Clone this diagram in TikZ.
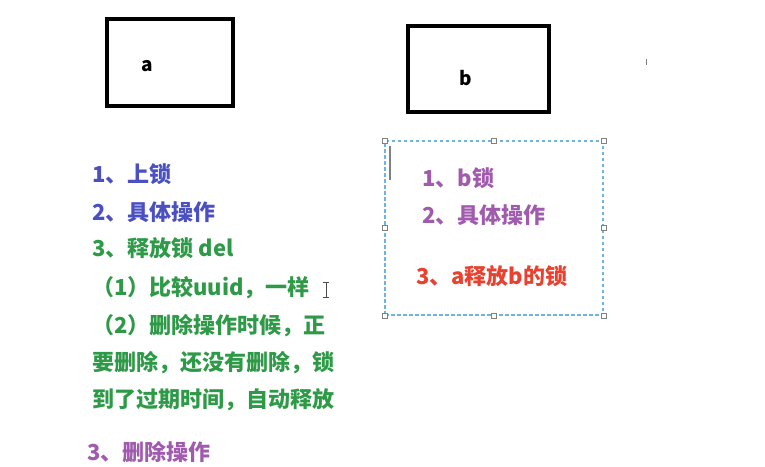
\documentclass[tikz,border=0pt]{standalone}
\usepackage{fontspec}
\newfontfamily\cjk{Noto Sans CJK SC}
\usetikzlibrary{positioning}
\definecolor{lockblue}{HTML}{4A4FC2}
\definecolor{lockgreen}{HTML}{2E9A48}
\definecolor{lockpurple}{HTML}{A05AAE}
\definecolor{lockred}{HTML}{E8412F}
\definecolor{selblue}{HTML}{6FB3E0}
\tikzset{
  client/.style={draw, line width=4pt, minimum width=126pt, minimum height=87pt},
  label/.style={font=\cjk\bfseries\fontsize{19}{21}\selectfont},
  note/.style={anchor=west, inner sep=0pt, font=\cjk\bfseries\fontsize{22}{24}\selectfont},
  handle/.style={draw=gray, fill=white, line width=0.6pt, minimum size=5pt, inner sep=0pt}
}
\begin{document}
\begin{tikzpicture}[x=1pt, y=-1pt]
  \useasboundingbox (0,0) rectangle (765,466);
  % the two clients
  \node[client] (boxa) at (170,62.5) {};
  \node[label] (laba) at (147,66) {a};
  \node[client, minimum width=141pt, minimum height=86pt] (boxb) at (478.5,69) {};
  \node[label] (labb) at (466,78) {b};
  % steps of client a
  \node[note, text=lockblue] (a1) at (92,174) {1、上锁};
  \node[note, text=lockblue] (a2) at (92,212) {2、具体操作};
  \node[note, text=lockgreen] (a3) at (92,248) {3、释放锁 del};
  \node[note, text=lockgreen] (a4) at (92,288) {（1）比较uuid，一样};
  \node[note, text=lockgreen] (a5) at (92,326) {（2）删除操作时候，正};
  \node[note, text=lockgreen] (a6) at (92,363) {要删除，还没有删除，锁};
  \node[note, text=lockgreen] (a7) at (92,400) {到了过期时间，自动释放};
  \node[note, text=lockpurple] (a8) at (87,452) {3、删除操作};
  % selected text frame of client b
  \node[draw=selblue, dash pattern=on 3.5pt off 2.5pt, line width=1.1pt, minimum width=218pt, minimum height=174pt] (sel) at (494,228) {};
  \foreach \pos in {north west, north, north east, east, south east, south, south west, west}
    \node[handle] at (sel.\pos) {};
  \draw[gray, line width=1.5pt] (390,146) -- (390,180);
  \node[note, text=lockpurple] (b1) at (422,178) {1、b锁};
  \node[note, text=lockpurple] (b2) at (422,215) {2、具体操作};
  \node[note, text=lockred] (b3) at (416,276) {3、a释放b的锁};
  % cursor marks
  \draw[gray, line width=1pt] (646,59) -- (646,65);
  \draw[black!70, line width=0.8pt] (326,282) -- (326,297) (323,282) -- (329,282) (323,297) -- (329,297);
\end{tikzpicture}
\end{document}
